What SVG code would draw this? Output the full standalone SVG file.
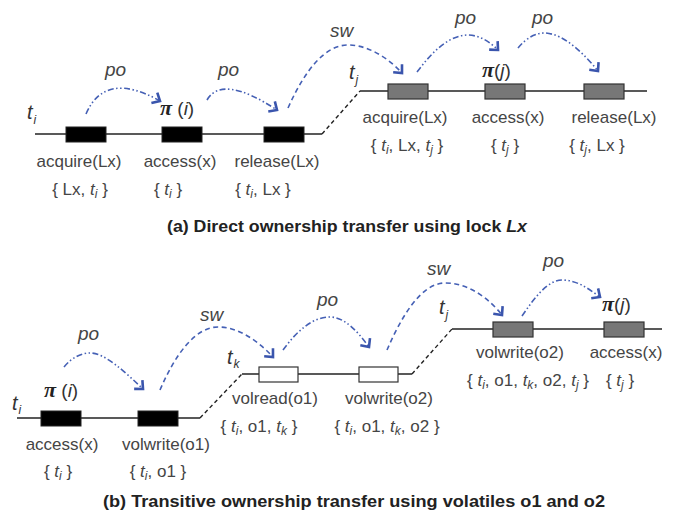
<svg xmlns="http://www.w3.org/2000/svg" width="680" height="523" viewBox="0 0 680 523">
<style>
.lbl{font-family:"Liberation Sans",Arial,sans-serif;font-size:17px;fill:#454545;text-anchor:middle}
.it{font-style:italic}
.sub{font-size:12px;font-style:italic}
.rel{font-family:"Liberation Sans",Arial,sans-serif;font-size:19px;font-style:italic;fill:#444}
.th{font-family:"Liberation Sans",Arial,sans-serif;font-size:20px;font-style:italic;fill:#333}
.pi{font-family:"Liberation Serif","Times New Roman",serif;font-size:22px;font-weight:bold;font-style:italic;fill:#222}
.pp{font-family:"Liberation Sans",Arial,sans-serif;font-size:19px;fill:#333}
.cap{font-family:"Liberation Sans",Arial,sans-serif;font-size:17px;font-weight:bold;fill:#222}
.tl{stroke:#222;stroke-width:1.6;fill:none}
.jn{stroke:#222;stroke-width:1.4;fill:none;stroke-dasharray:4 3}
.po{stroke:#4560b5;stroke-width:1.6;fill:none;stroke-dasharray:6 2.5 1.5 2.5 1.5 2.5;marker-end:url(#ah)}
.sw{stroke:#4560b5;stroke-width:1.6;fill:none;stroke-dasharray:5 3.5;marker-end:url(#ah)}
.bk{fill:#000;stroke:#222;stroke-width:1}
.gy{fill:#777;stroke:#333;stroke-width:1.2}
.wh{fill:#fff;stroke:#333;stroke-width:1.2}
</style>
<defs>
<marker id="ah" markerUnits="userSpaceOnUse" markerWidth="16" markerHeight="16" viewBox="-10 -8 16 16" refX="0" refY="0" orient="auto">
<path d="M-6.5,-6 L0,0 L-6.5,6" fill="none" stroke="#3a55ad" stroke-width="2.6"/>
</marker>
</defs>

<g id="timelines">
<path class="tl" d="M35,134 H322"/>
<path class="jn" d="M322,134 L360,91"/>
<path class="tl" d="M360,91 H647"/>
<path class="tl" d="M17,418 H200"/>
<path class="jn" d="M200,418 L242,374"/>
<path class="tl" d="M242,374 H412"/>
<path class="jn" d="M412,374 L452,329"/>
<path class="tl" d="M452,329 H662"/>
</g>

<g id="connectors">
<path class="po" d="M86,114 Q105,70 160,101"/>
<path class="po" d="M207,100 Q222,74 277,110"/>
<path class="sw" d="M288,108 C305,70 325,45 348,45 C370,45 390,60 402,73"/>
<path class="po" d="M417,72 C432,52 448,36 467,35 C480,35 490,42 498,50"/>
<path class="po" d="M518,48 C528,36 537,33 545,33 C565,34 585,55 598,71"/>
<path class="po" d="M64,367 C72,357 82,353 90,353 C105,353 125,372 143,389"/>
<path class="sw" d="M160,390 C175,355 195,327 218,327 C240,327 260,343 273,357"/>
<path class="po" d="M283,350 C296,332 312,317 330,317 C345,317 358,332 369,347"/>
<path class="sw" d="M387,350 C400,320 420,283 445,283 C470,283 490,300 502,315"/>
<path class="po" d="M522,316 C535,297 548,280 562,280 C578,280 590,290 600,297"/>
</g>

<g id="edge-labels">
<text class="rel" x="105" y="76">po</text>
<text class="rel" x="218" y="76">po</text>
<text class="rel" x="330" y="37">sw</text>
<text class="rel" x="455" y="24">po</text>
<text class="rel" x="532" y="24">po</text>
<text class="rel" x="78" y="340">po</text>
<text class="rel" x="200" y="321">sw</text>
<text class="rel" x="317" y="306">po</text>
<text class="rel" x="427" y="275">sw</text>
<text class="rel" x="543" y="267">po</text>
</g>

<g id="thread-labels">
<text class="th" x="27" y="119">t<tspan class="sub" dx="1" baseline-shift="-5">i</tspan></text>
<text class="th" x="349" y="79">t<tspan class="sub" dx="1" baseline-shift="-5">j</tspan></text>
<text class="th" x="12" y="410">t<tspan class="sub" dx="1" baseline-shift="-4">i</tspan></text>
<text class="th" x="227" y="364">t<tspan class="sub" dx="1" baseline-shift="-4">k</tspan></text>
<text class="th" x="439" y="314">t<tspan class="sub" dx="1" baseline-shift="-5">j</tspan></text>
<text x="160" y="115"><tspan class="pi">π</tspan><tspan class="pp"> (<tspan class="it">i</tspan>)</tspan></text>
<text x="482" y="77"><tspan class="pi">π</tspan><tspan class="pp">(<tspan class="it">j</tspan>)</tspan></text>
<text x="44" y="397"><tspan class="pi">π</tspan><tspan class="pp"> (<tspan class="it">i</tspan>)</tspan></text>
<text x="602" y="311"><tspan class="pi">π</tspan><tspan class="pp">(<tspan class="it">j</tspan>)</tspan></text>
</g>

<g id="a-acquire-ti">
<rect class="bk" x="66" y="127" width="40" height="15"/>
<text class="lbl" x="79" y="167">acquire(Lx)</text>
<text class="lbl" x="80" y="195">{ Lx, <tspan class="it">t</tspan><tspan class="sub" baseline-shift="-3">i</tspan> }</text>
</g>
<g id="a-access-ti">
<rect class="bk" x="162" y="127" width="40" height="15"/>
<text class="lbl" x="180" y="167">access(x)</text>
<text class="lbl" x="168" y="195">{ <tspan class="it">t</tspan><tspan class="sub" baseline-shift="-3">i</tspan> }</text>
</g>
<g id="a-release-ti">
<rect class="bk" x="264" y="127" width="40" height="15"/>
<text class="lbl" x="277" y="167">release(Lx)</text>
<text class="lbl" x="263" y="195">{ <tspan class="it">t</tspan><tspan class="sub" baseline-shift="-3">i</tspan>, Lx }</text>
</g>
<g id="a-acquire-tj">
<rect class="gy" x="388" y="84" width="40" height="15"/>
<text class="lbl" x="405" y="123">acquire(Lx)</text>
<text class="lbl" x="407" y="151">{ <tspan class="it">t</tspan><tspan class="sub" baseline-shift="-3">i</tspan>, Lx, <tspan class="it">t</tspan><tspan class="sub" baseline-shift="-3">j</tspan> }</text>
</g>
<g id="a-access-tj">
<rect class="gy" x="485" y="84" width="40" height="15"/>
<text class="lbl" x="508" y="123">access(x)</text>
<text class="lbl" x="505" y="151">{ <tspan class="it">t</tspan><tspan class="sub" baseline-shift="-3">j</tspan> }</text>
</g>
<g id="a-release-tj">
<rect class="gy" x="584" y="84" width="40" height="15"/>
<text class="lbl" x="614" y="123">release(Lx)</text>
<text class="lbl" x="597" y="151">{ <tspan class="it">t</tspan><tspan class="sub" baseline-shift="-3">j</tspan>, Lx }</text>
</g>

<g id="b-access-ti">
<rect class="bk" x="41" y="411" width="40" height="15"/>
<text class="lbl" x="62" y="450">access(x)</text>
<text class="lbl" x="58" y="477">{ <tspan class="it">t</tspan><tspan class="sub" baseline-shift="-3">i</tspan> }</text>
</g>
<g id="b-volwrite-o1">
<rect class="bk" x="138" y="411" width="40" height="15"/>
<text class="lbl" x="166" y="450">volwrite(o1)</text>
<text class="lbl" x="158" y="477">{ <tspan class="it">t</tspan><tspan class="sub" baseline-shift="-3">i</tspan>, o1 }</text>
</g>
<g id="b-volread-o1">
<rect class="wh" x="259" y="367" width="39" height="15"/>
<text class="lbl" x="275" y="404">volread(o1)</text>
<text class="lbl" x="259" y="432">{ <tspan class="it">t</tspan><tspan class="sub" baseline-shift="-3">i</tspan>, o1, <tspan class="it">t</tspan><tspan class="sub" baseline-shift="-3">k</tspan> }</text>
</g>
<g id="b-volwrite-o2-tk">
<rect class="wh" x="359" y="367" width="39" height="15"/>
<text class="lbl" x="389" y="404">volwrite(o2)</text>
<text class="lbl" x="387" y="432">{ <tspan class="it">t</tspan><tspan class="sub" baseline-shift="-3">i</tspan>, o1, <tspan class="it">t</tspan><tspan class="sub" baseline-shift="-3">k</tspan>, o2 }</text>
</g>
<g id="b-volwrite-o2-tj">
<rect class="gy" x="493" y="322" width="40" height="15"/>
<text class="lbl" x="520" y="358">volwrite(o2)</text>
<text class="lbl" x="528" y="386">{ <tspan class="it">t</tspan><tspan class="sub" baseline-shift="-3">i</tspan>, o1, <tspan class="it">t</tspan><tspan class="sub" baseline-shift="-3">k</tspan>, o2, <tspan class="it">t</tspan><tspan class="sub" baseline-shift="-3">j</tspan> }</text>
</g>
<g id="b-access-tj">
<rect class="gy" x="604" y="322" width="40" height="15"/>
<text class="lbl" x="626" y="358">access(x)</text>
<text class="lbl" x="620" y="386">{ <tspan class="it">t</tspan><tspan class="sub" baseline-shift="-3">j</tspan> }</text>
</g>

<g id="captions">
<text class="cap" x="167" y="232" textLength="360" lengthAdjust="spacingAndGlyphs">(a) Direct ownership transfer using lock <tspan font-style="italic">Lx</tspan></text>
<text class="cap" x="103" y="507" textLength="502" lengthAdjust="spacingAndGlyphs">(b) Transitive ownership transfer using volatiles o1 and o2</text>
</g>
</svg>
